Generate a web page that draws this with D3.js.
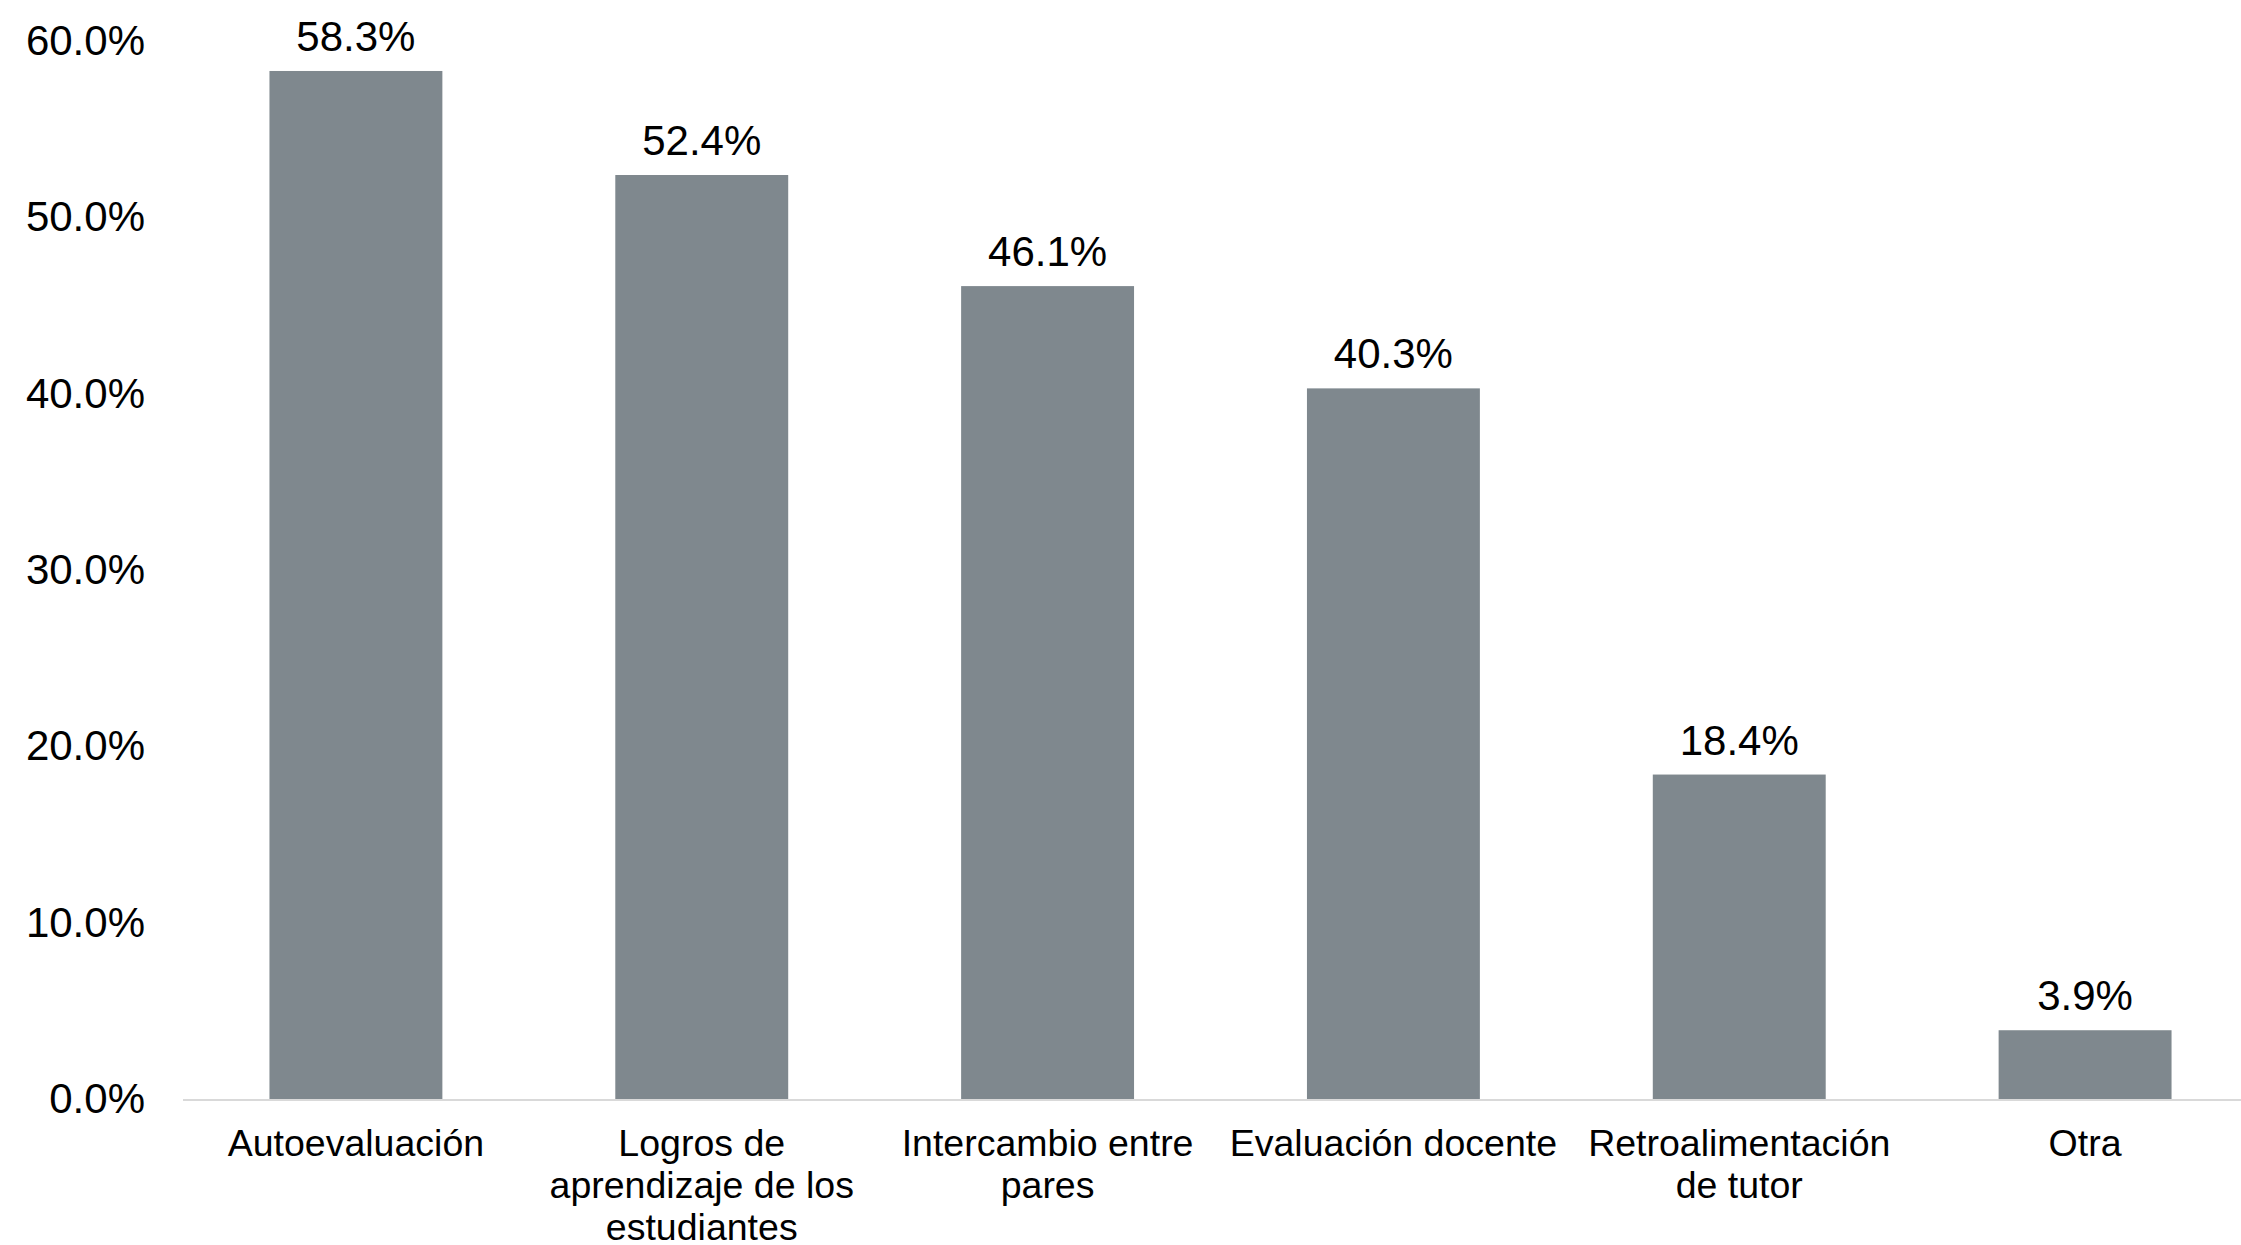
<!DOCTYPE html>
<html>
<head>
<meta charset="utf-8">
<script src="https://cdn.jsdelivr.net/npm/d3@7"></script>
<style>
	html, body { margin: 0; padding: 0; background: #ffffff; }
	svg { display: block; }
	text { font-family: "Liberation Sans", Arial, sans-serif; fill: #000000; }
</style>
</head>
<body>
<svg id="chart"></svg>
<script>
var categories = ["Autoevaluación", "Logros de aprendizaje de los estudiantes", "Intercambio entre pares", "Evaluación docente", "Retroalimentación de tutor", "Otra"];
var values = [58.3, 52.4, 46.1, 40.3, 18.4, 3.9];
var yTicks = [0, 10, 20, 30, 40, 50, 60];

var width = 2241,
	height = 1245;

var svg = d3.select("#chart")
	.attr("width", width)
	.attr("height", height);

var x = d3.scaleBand()
	.domain(categories)
	.range([183, 2258])
	.paddingInner(0.5)
	.paddingOuter(0.25);

var y = d3.scaleLinear()
	.domain([0, 60])
	.range([1099, 41]);

// y labels
var yAxis = d3.axisLeft(y)
	.tickValues(yTicks)
	.tickSize(0)
	.tickPadding(0)
	.tickFormat(d => d.toFixed(1) + "%");

svg.append("g")
	.attr("transform", "translate(145,0)")
	.call(yAxis)
	.call(g => g.select(".domain").remove())
	.selectAll("text")
	.attr("font-size", 42)
	.attr("font-family", "Liberation Sans, Arial, sans-serif")
	.attr("fill", "#000");

// bars
svg.selectAll("rect.bar")
	.data(values)
	.enter()
	.append("rect")
	.attr("class", "bar")
	.attr("x", (d, i) => x(categories[i]))
	.attr("width", x.bandwidth())
	.attr("y", d => y(d))
	.attr("height", d => y(0) - y(d))
	.attr("fill", "#7f888e");

// baseline
svg.append("line")
	.attr("x1", 183)
	.attr("x2", width)
	.attr("y1", y(0) + 1)
	.attr("y2", y(0) + 1)
	.attr("stroke", "#d9d9d9")
	.attr("stroke-width", 2);

// value labels
svg.selectAll("text.value")
	.data(values)
	.enter()
	.append("text")
	.attr("class", "value")
	.attr("x", (d, i) => x(categories[i]) + x.bandwidth() / 2)
	.attr("y", d => y(d) - 20)
	.attr("text-anchor", "middle")
	.attr("font-size", 42)
	.text(d => d.toFixed(1) + "%");

// category labels, wrapped
function wrap(sel, maxWidth) {
	sel.each(function(d) {
		var t = d3.select(this),
			words = d.split(" "),
			line = [],
			lines = [];
		var probe = t.append("tspan");
		words.forEach(w => {
			line.push(w);
			probe.text(line.join(" "));
			if (probe.node().getComputedTextLength() > maxWidth && line.length > 1) {
				line.pop();
				lines.push(line.join(" "));
				line = [w];
			}
		});
		lines.push(line.join(" "));
		probe.remove();
		lines.forEach((l, i) => {
			t.append("tspan")
				.attr("x", t.attr("x"))
				.attr("dy", i === 0 ? 0 : 42)
				.text(l);
		});
	});
}

svg.selectAll("text.cat")
	.data(categories)
	.enter()
	.append("text")
	.attr("class", "cat")
	.attr("x", d => x(d) + x.bandwidth() / 2)
	.attr("y", 1156)
	.attr("text-anchor", "middle")
	.attr("font-size", 37.5)
	.call(wrap, 345);
</script>
</body>
</html>
